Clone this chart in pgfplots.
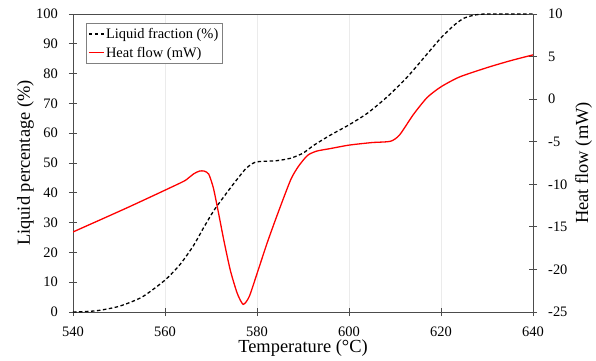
\documentclass[border=0pt]{standalone}
\usepackage{pgfplots}
\pgfplotsset{compat=1.18}
\usepackage{fontspec}
\setmainfont{Liberation Serif}
\begin{document}
\begin{tikzpicture}
\pgfplotsset{
  mybase/.style={
    scale only axis, width=460bp, height=298bp,
    xmin=540, xmax=640,
    tick align=center, major tick length=8bp,
    axis line style={black!70, line width=0.9bp},
    every tick/.style={black!70, line width=0.9bp},
    tick label style={font=\fontsize{14.5}{16}\selectfont},
    label style={font=\fontsize{18.5}{20}\selectfont},
    /pgf/number format/assume math mode=true,
  }
}
\begin{axis}[mybase,
  ymin=0, ymax=100,
  xtick={540,560,...,640},
  ytick={0,10,...,100},
  xtick pos=bottom, ytick pos=left,
  xmajorgrids, major grid style={black!8, line width=0.8bp},
  xticklabel style={inner sep=0pt, anchor=north, yshift=-11bp},
  yticklabel style={inner sep=0pt, anchor=east, xshift=-11bp},
  xlabel={Temperature (°C)},
  ylabel={Liquid percentage (\%)},
  xlabel style={inner sep=0pt, at={(axis description cs:0.5,-0.094)}, anchor=north},
  ylabel style={inner sep=0pt, at={(axis description cs:-0.0848,0.5)}, anchor=south},
]
\addplot[black, line width=1.3bp, dash pattern=on 3.5bp off 2.5bp, smooth, tension=0.4] coordinates {
(540,0) (545,0.4) (550,1.9) (555,5.0) (560,10.7) (563.3,16.0) (566.2,22.3)
(568.4,28.3) (570.6,34.0) (572.8,38.7) (575,43.2) (577.5,48.0) (579,49.8)
(580,50.4) (582,50.6) (584.4,50.8) (587.3,51.6) (590,53.3) (592.4,56.0)
(596,59.4) (600,62.8) (604,66.7) (608.3,72.2) (612.7,78.9) (617.1,86.8)
(620,92.0) (622.9,96.3) (625,98.6) (627.5,99.7) (630,100) (640,100)
};
\end{axis}
\begin{axis}[mybase,
  ymin=-25, ymax=10,
  axis y line*=right, hide x axis,
  ytick={-25,-20,...,10},
  yticklabels={-25,-20,-15,-10,-5,0,5,10},
  yticklabel style={inner sep=0pt, anchor=west, xshift=11bp},
  ylabel={Heat flow (mW)},
  ylabel style={inner sep=0pt, at={(axis description cs:1.0913,0.5)}, anchor=north},
  legend image code/.code={\draw[#1] (0bp,0bp) -- (15bp,0bp);},
  legend cell align=left,
  legend style={at={(axis description cs:0.0283,0.9698)}, anchor=north west,
    draw=black!50, font=\fontsize{14.5}{16}\selectfont,
    inner xsep=2bp, inner ysep=1.5bp, nodes={inner xsep=1.5bp, inner ysep=3.5bp}},
]
\addlegendimage{black, line width=1.3bp, dash pattern=on 3.5bp off 2.5bp}
\addlegendentry{Liquid fraction (\%)}
\addlegendimage{red, line width=1.3bp}
\addlegendentry{Heat flow (mW)}
\addplot[red, line width=1.3bp, smooth, tension=0.4, forget plot] coordinates {
(540,-15.6) (552,-12.7) (563.5,-9.8)
(565,-9.3) (566.3,-8.75) (567.5,-8.45) (568.5,-8.45) (569.5,-8.8) (570.5,-10.4)
(571.5,-13.0) (572.8,-16.6) (574.2,-20.1) (575.7,-22.8) (577.0,-24.1)
(578.3,-23.2) (580,-20.5) (582.2,-16.9) (584.4,-13.6) (587.3,-9.5) (589,-7.9)
(591,-6.6) (593,-6.1) (596,-5.8) (600,-5.4) (605,-5.1) (609,-4.95) (611,-4.2)
(614,-1.8) (617,0.2) (620,1.45) (624,2.6) (630,3.7) (635,4.5) (640,5.2)
};
\end{axis}
\pgfresetboundingbox
\path[use as bounding box] ([shift={(-73bp,-49bp)}]current axis.south west) rectangle ([shift={(63bp,14bp)}]current axis.north east);
\end{tikzpicture}
\end{document}
